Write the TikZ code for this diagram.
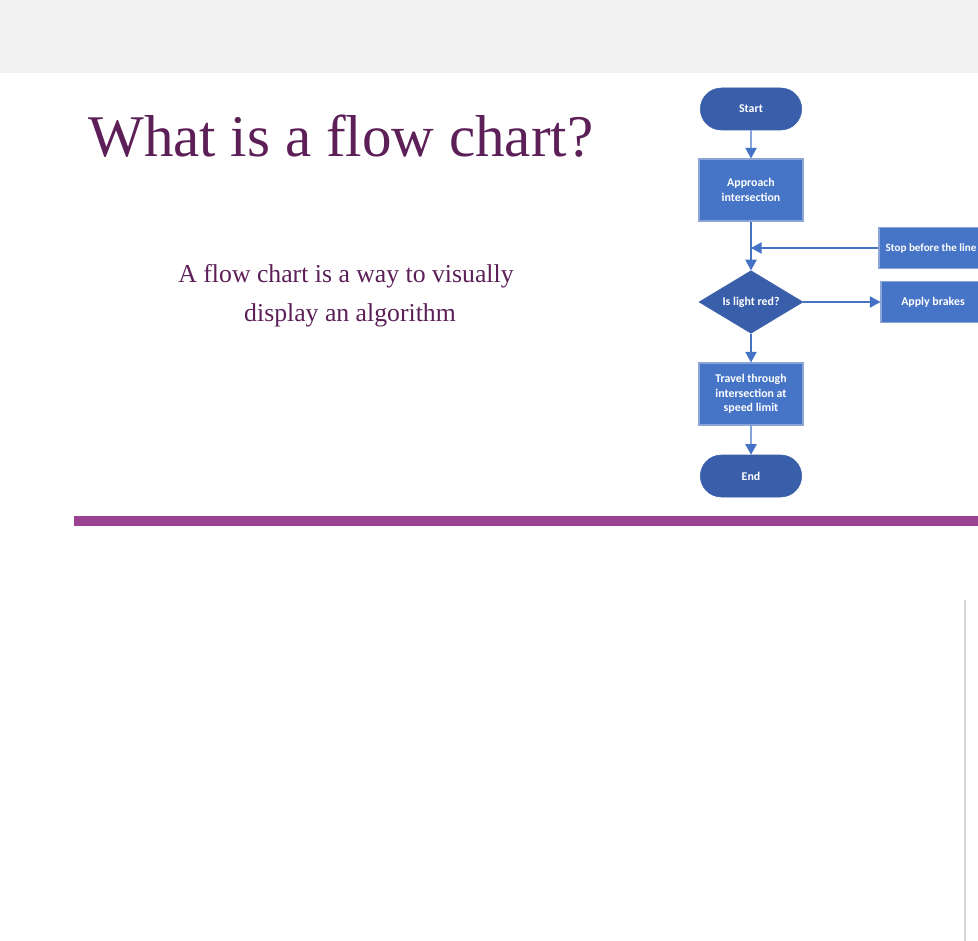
\documentclass[tikz,border=0pt]{standalone}
\usepackage{fontspec}
\setmainfont{Liberation Serif}
\newfontfamily\flowfont{Carlito}
\usetikzlibrary{shapes.geometric,shapes.misc,arrows.meta,positioning}
\definecolor{titlepurple}{RGB}{92,31,88}
\definecolor{barpurple}{RGB}{155,67,146}
\definecolor{topgray}{RGB}{242,242,242}
\definecolor{boxblue}{RGB}{70,116,198}
\definecolor{boxedge}{RGB}{140,165,215}
\definecolor{darkblue}{RGB}{58,95,170}
\definecolor{linkblue}{RGB}{68,114,196}
\definecolor{edgegray}{RGB}{215,215,215}
\tikzset{
  flowtext/.style={font=\flowfont\bfseries\fontsize{8.9}{10.8}\selectfont, text=white, align=center},
  procbox/.style={flowtext, rectangle, fill=boxblue, draw=boxedge, line width=0.8pt,
     minimum width=78pt, minimum height=46.5pt, inner sep=1pt},
  sidebox/.style={flowtext, rectangle, fill=boxblue, draw=boxedge, line width=0.8pt,
     minimum width=78pt, minimum height=30.5pt, inner sep=1pt},
  termbox/.style={flowtext, rounded rectangle, fill=darkblue, draw=darkblue,
     minimum width=78pt, minimum height=31.5pt, inner sep=1pt},
  decbox/.style={flowtext, diamond, fill=darkblue, draw=darkblue, aspect=1.65,
     minimum width=78pt, minimum height=47pt, inner sep=0pt},
  link/.style={draw=linkblue, line width=1.1pt,
     -{Triangle[length=8pt,width=8.5pt]}},
}
\begin{document}
\begin{tikzpicture}[x=0.75pt,y=-0.75pt]
\useasboundingbox (0,0) rectangle (978,941);
\clip (0,0) rectangle (978,941);
\fill[white] (0,0) rectangle (978,941);
% top band
\fill[topgray] (0,0) rectangle (978,73);
% purple bar
\fill[barpurple] (74,516) rectangle (978,526);
% thin gray vertical line
\draw[edgegray, line width=0.8pt] (965,600) -- (965,941);

% title and body
\node[anchor=base west, inner sep=0pt, text=titlepurple, font=\fontsize{44.3}{50}\selectfont] (title) at (88,157) {What is a flow chart?};
\node[anchor=base, inner sep=0pt, text=titlepurple, font=\fontsize{19.3}{29}\selectfont] (body1) at (346,282) {A flow chart is a way to visually};
\node[anchor=base, inner sep=0pt, text=titlepurple, font=\fontsize{19.3}{29}\selectfont] (body2) at (350,321) {display an algorithm};

% flowchart
\node[termbox] (start) at (751,109) {Start};
\node[procbox] (approach) at (751,190) {Approach\\intersection};
\node[decbox] (light) at (751,302) {Is light red?};
\node[procbox] (travel) at (751,394) {Travel through\\intersection at\\speed limit};
\node[termbox] (end) at (751,476) {End};
\node[sidebox, font=\flowfont\bfseries\fontsize{8.3}{10.8}\selectfont] (stop) at (931,248) {Stop before the line};
\node[sidebox] (brakes) at (933,302) {Apply brakes};
\coordinate (join) at (approach.south |- stop.west);

\draw[link] (start) -- (approach);
\draw[link] (approach) -- (light);
\draw[link] (stop) -- (join);
\draw[link] (light) -- (brakes);
\draw[link] (light) -- (travel);
\draw[link] (travel) -- (end);
\end{tikzpicture}
\end{document}
